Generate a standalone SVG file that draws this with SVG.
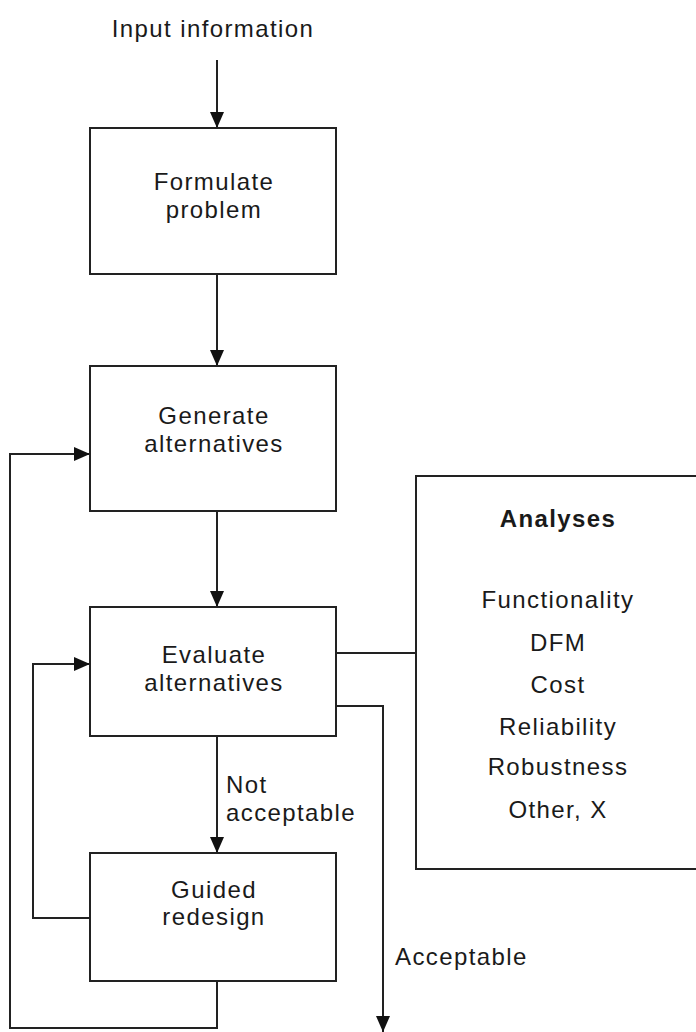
<svg xmlns="http://www.w3.org/2000/svg" width="696" height="1032" viewBox="0 0 696 1032">
  <style>
    .box { fill: #ffffff; stroke: #222222; stroke-width: 2; }
    .wire { fill: none; stroke: #222222; stroke-width: 2; }
    text { font-family: "Liberation Sans", Arial, Helvetica, sans-serif; font-size: 24px; letter-spacing: 1.4px; fill: #1a1a1a; text-anchor: middle; }
    .left { text-anchor: start; }
    .bold { font-weight: bold; }
  </style>
  <defs>
    <marker id="arrow" viewBox="0 0 16 14" refX="16" refY="7" markerWidth="16" markerHeight="14" markerUnits="userSpaceOnUse" orient="auto">
      <path d="M0,0 L16,7 L0,14 Z" fill="#111111"/>
    </marker>
  </defs>
  <rect width="696" height="1032" fill="#ffffff"/>

  <g id="connectors">
    <!-- input into the first step -->
    <line class="wire" x1="217" y1="60" x2="217" y2="128" marker-end="url(#arrow)"/>
    <!-- main flow -->
    <line class="wire" x1="217" y1="274" x2="217" y2="366" marker-end="url(#arrow)"/>
    <line class="wire" x1="217" y1="511" x2="217" y2="607" marker-end="url(#arrow)"/>
    <line class="wire" x1="217" y1="736" x2="217" y2="853" marker-end="url(#arrow)"/>
    <!-- redesign feeds back to evaluation -->
    <polyline class="wire" points="90,918 33,918 33,664 90,664" marker-end="url(#arrow)"/>
    <!-- outer loop back to generation -->
    <polyline class="wire" points="217,981 217,1028 10,1028 10,454 90,454" marker-end="url(#arrow)"/>
    <!-- link to analyses panel -->
    <line class="wire" x1="336" y1="653" x2="416" y2="653"/>
    <!-- accepted result leaves the loop -->
    <polyline class="wire" points="336,706 383,706 383,1032" marker-end="url(#arrow)"/>
  </g>

  <g id="input-label">
    <text x="213" y="37">Input information</text>
  </g>

  <g id="formulate">
    <rect class="box" x="90" y="128" width="246" height="146"/>
    <text x="214" y="190">Formulate</text>
    <text x="214" y="218">problem</text>
  </g>

  <g id="generate">
    <rect class="box" x="90" y="366" width="246" height="145"/>
    <text x="214" y="424">Generate</text>
    <text x="214" y="452">alternatives</text>
  </g>

  <g id="evaluate">
    <rect class="box" x="90" y="607" width="246" height="129"/>
    <text x="214" y="663">Evaluate</text>
    <text x="214" y="691">alternatives</text>
  </g>

  <g id="redesign">
    <rect class="box" x="90" y="853" width="246" height="128"/>
    <text x="214" y="898">Guided</text>
    <text x="214" y="925">redesign</text>
  </g>

  <g id="analyses">
    <rect class="box" x="416" y="476" width="300" height="393"/>
    <text class="bold" x="558" y="527">Analyses</text>
    <text x="558" y="608">Functionality</text>
    <text x="558" y="651">DFM</text>
    <text x="558" y="693">Cost</text>
    <text x="558" y="735">Reliability</text>
    <text x="558" y="775">Robustness</text>
    <text x="558" y="818">Other, X</text>
  </g>

  <g id="flow-labels">
    <text class="left" x="226" y="793">Not</text>
    <text class="left" x="226" y="821">acceptable</text>
    <text class="left" x="395" y="965">Acceptable</text>
  </g>
</svg>
